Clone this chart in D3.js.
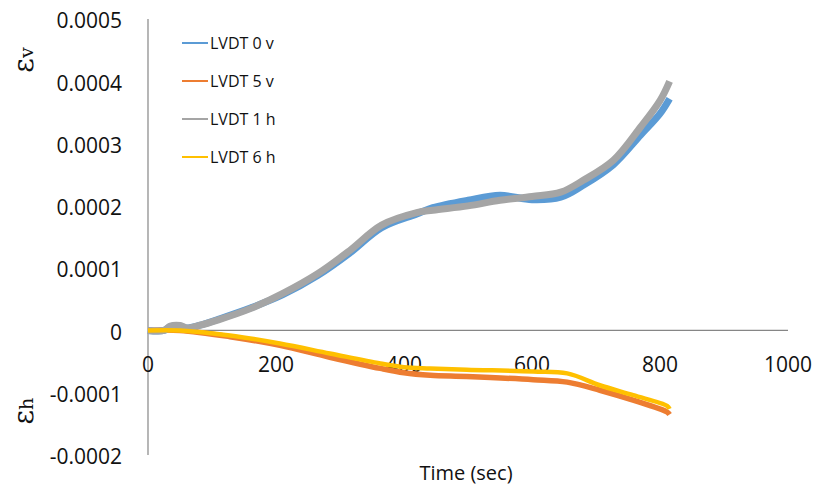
<!DOCTYPE html>
<html>
<head>
<meta charset="utf-8">
<script src="https://cdn.jsdelivr.net/npm/d3@7"></script>
<style>
  html, body { margin: 0; padding: 0; background: #ffffff; }
  svg { display: block; }
</style>
</head>
<body>
<div id="chart"></div>
<script>
/* LVDT strain vs time — vertical (positive) and horizontal (negative) */

// vertical gauges (sec, strain)
var TIME_V   = [0, 25, 35, 50, 60, 80, 110, 160, 210, 265, 315, 365, 420, 445, 500, 550, 600, 645, 680, 727, 770, 800, 815];
var LVDT_0V  = [0, 0, 0.000006, 0.000007, 0.000004, 0.000008, 0.000018, 0.000036, 0.000057, 0.000088, 0.000124, 0.000165, 0.000187, 0.000197, 0.000209, 0.000217, 0.000210, 0.000214, 0.000233, 0.000266, 0.000314, 0.000348, 0.000372];
var LVDT_1H  = [0, 0, 0.000007, 0.000008, 0.000004, 0.000008, 0.000017, 0.000035, 0.000059, 0.000091, 0.000128, 0.000169, 0.000189, 0.000193, 0.000200, 0.000209, 0.000215, 0.000222, 0.000241, 0.000273, 0.000327, 0.000369, 0.000400];

// horizontal gauges
var TIME_H   = [0, 50, 128, 206, 284, 363, 400, 441, 498, 602, 655, 706, 758, 811, 815];
var LVDT_5V  = [0, 0, -0.000010, -0.000024, -0.000043, -0.000061, -0.000068, -0.000072, -0.000074, -0.000079, -0.000083, -0.000096, -0.000112, -0.000131, -0.000135];
var LVDT_6H  = [0, 0, -0.000008, -0.000021, -0.000037, -0.000053, -0.000059, -0.000061, -0.000063, -0.000066, -0.000069, -0.000088, -0.000104, -0.000121, -0.000126];

var SERIES_NAMES = ['LVDT 0 v', 'LVDT 5 v', 'LVDT 1 h', 'LVDT 6 h'];
var X_TICKS = [0, 200, 400, 600, 800, 1000];
var Y_TICKS = [-0.0002, -0.0001, 0, 0.0001, 0.0002, 0.0003, 0.0004, 0.0005];

(function () {
  'use strict';

  var WIDTH = 819, HEIGHT = 494;
  var COLORS = {
    'LVDT 0 v': '#5b9bd5',
    'LVDT 5 v': '#ed7d31',
    'LVDT 1 h': '#a5a5a5',
    'LVDT 6 h': '#ffc000'
  };
  var STROKES = { 'LVDT 0 v': 7, 'LVDT 5 v': 5.5, 'LVDT 1 h': 7, 'LVDT 6 h': 4.5 };
  var AXIS_COLOR = '#868686';
  var TEXT_COLOR = '#111111';
  var FONT = '"Open Sans", "Liberation Sans", sans-serif';

  var x = d3.scaleLinear().domain([0, 1000]).range([148, 788]);
  var y = d3.scaleLinear().domain([-0.0002, 0.0005]).range([455, 19]);

  var svg = d3.select('#chart').append('svg')
    .attr('width', WIDTH)
    .attr('height', HEIGHT);

  // axes lines
  svg.append('line')
    .attr('x1', x(0)).attr('x2', x(0))
    .attr('y1', y(0.0005)).attr('y2', y(-0.0002))
    .attr('stroke', AXIS_COLOR).attr('stroke-width', 1.2);

  svg.append('line')
    .attr('x1', x(0)).attr('x2', x(1000))
    .attr('y1', y(0)).attr('y2', y(0))
    .attr('stroke', AXIS_COLOR).attr('stroke-width', 1.2);

  // y tick labels
  svg.append('g').selectAll('text')
    .data(Y_TICKS)
    .enter().append('text')
    .attr('x', 122)
    .attr('y', function (d) { return y(d) + 2; })
    .attr('dy', '0.35em')
    .attr('text-anchor', 'end')
    .attr('font-family', FONT)
    .attr('font-size', '21px')
    .attr('fill', TEXT_COLOR)
    .text(function (d) { return d === 0 ? '0' : d3.format('.4f')(d).replace('−', '-'); });

  // x tick labels
  svg.append('g').selectAll('text')
    .data(X_TICKS)
    .enter().append('text')
    .attr('x', function (d) { return x(d); })
    .attr('y', 372)
    .attr('text-anchor', 'middle')
    .attr('font-family', FONT)
    .attr('font-size', '21px')
    .attr('fill', TEXT_COLOR)
    .text(function (d) { return d; });

  // series
  var line = d3.line()
    .x(function (d) { return x(d[0]); })
    .y(function (d) { return y(d[1]); })
    .curve(d3.curveCatmullRom.alpha(0.5));

  function zip(t, v) { return t.map(function (tt, i) { return [tt, v[i]]; }); }

  var drawOrder = [
    { name: 'LVDT 0 v', pts: zip(TIME_V, LVDT_0V) },
    { name: 'LVDT 5 v', pts: zip(TIME_H, LVDT_5V) },
    { name: 'LVDT 1 h', pts: zip(TIME_V, LVDT_1H) },
    { name: 'LVDT 6 h', pts: zip(TIME_H, LVDT_6H) }
  ];

  drawOrder.forEach(function (s) {
    svg.append('path')
      .attr('d', line(s.pts))
      .attr('fill', 'none')
      .attr('stroke', COLORS[s.name])
      .attr('stroke-width', STROKES[s.name])
      .attr('stroke-linejoin', 'round');
  });

  // legend
  var legend = svg.append('g').attr('class', 'legend');
  SERIES_NAMES.forEach(function (name, i) {
    var ly = 43 + i * 38;
    legend.append('line')
      .attr('x1', 182).attr('x2', 208)
      .attr('y1', ly).attr('y2', ly)
      .attr('stroke', COLORS[name]).attr('stroke-width', 2);
    legend.append('text')
      .attr('x', 210).attr('y', ly)
      .attr('dy', '0.35em')
      .attr('font-family', FONT)
      .attr('font-size', '16px')
      .attr('fill', TEXT_COLOR)
      .text(name);
  });

  // axis titles
  svg.append('text')
    .attr('x', 466).attr('y', 480)
    .attr('text-anchor', 'middle')
    .attr('font-family', FONT)
    .attr('font-size', '20px')
    .attr('fill', TEXT_COLOR)
    .text('Time (sec)');

  function epsLabel(cx, cy, sub) {
    var t = svg.append('text')
      .attr('transform', 'translate(' + cx + ',' + cy + ') rotate(-90)')
      .attr('text-anchor', 'middle')
      .attr('font-family', '"DejaVu Serif", "Liberation Serif", serif')
      .attr('fill', TEXT_COLOR);
    t.append('tspan').attr('font-size', '28px').text('ε');
    t.append('tspan').attr('font-size', '19px').text(sub);
  }
  epsLabel(33, 60, 'v');
  epsLabel(33, 411, 'h');
})();
</script>
</body>
</html>
